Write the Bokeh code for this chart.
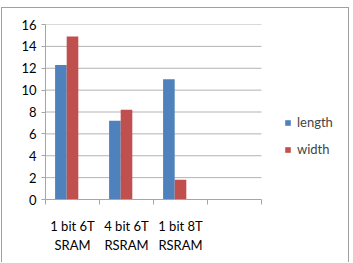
from bokeh.plotting import figure
from bokeh.models import (ColumnDataSource, FixedTicker, Legend, LegendItem,
                          Range1d)
from bokeh.transform import dodge
from bokeh.embed import file_html
from bokeh.resources import INLINE

categories = ["1 bit 6T\nSRAM", "4 bit 6T\nRSRAM", "1 bit 8T\nRSRAM"]
length = [12.3, 7.2, 11.0]
width = [14.9, 8.2, 1.8]
y_ticks = [0, 2, 4, 6, 8, 10, 12, 14, 16]
n_slots = 4

FONT = "Lato"
BLUE = "#4F81BD"
RED = "#C0504D"
GRID = "#b3b3b3"
AXIS = "#a6a6a6"

xpos = [i + 0.5 for i in range(len(categories))]
src = ColumnDataSource(dict(x=xpos, length=length, width=width))
grid_src = ColumnDataSource(dict(y=y_ticks[1:], x0=[0] * (len(y_ticks) - 1),
                                 x1=[n_slots] * (len(y_ticks) - 1)))

p = figure(width=348, height=255, output_backend="svg", toolbar_location=None,
           x_range=Range1d(0, n_slots * 305 / 216), y_range=Range1d(y_ticks[0], y_ticks[-1]),
           min_border_left=43, min_border_right=0, min_border_top=16,
           min_border_bottom=64)
p.outline_line_color = None
p.background_fill_color = "white"
p.border_fill_color = "white"
p.styles = {"border-left": "1px solid #a0a0a0", "border-right": "1px solid #a0a0a0",
            "border-top": "1px solid #a0a0a0", "margin-left": "1px",
            "margin-top": "7px"}

p.segment(x0="x0", x1="x1", y0="y", y1="y", source=grid_src,
          line_color=GRID, line_width=1)

bw = 0.215
r1 = p.vbar(x=dodge("x", -bw, range=p.x_range), top="length", width=bw,
            source=src, fill_color=BLUE, line_color=None)
r2 = p.vbar(x=dodge("x", 0.0, range=p.x_range), top="width", width=bw,
            source=src, fill_color=RED, line_color=None)

# y axis
p.yaxis.ticker = FixedTicker(ticks=y_ticks)
p.yaxis.axis_line_color = AXIS
p.yaxis.major_tick_line_color = AXIS
p.yaxis.major_tick_out = 4
p.yaxis.major_tick_in = 0
p.yaxis.minor_tick_line_color = None
p.yaxis.major_label_text_font = FONT
p.yaxis.major_label_text_font_size = "13px"
p.yaxis.major_label_text_color = "#000000"
p.yaxis.major_label_standoff = 5

# x axis
p.xaxis.ticker = FixedTicker(ticks=xpos, minor_ticks=list(range(n_slots + 1)))
p.xaxis.bounds = (0, n_slots)
p.xaxis.major_label_overrides = {x: c for x, c in zip(xpos, categories)}
p.xaxis.axis_line_color = AXIS
p.xaxis.major_tick_line_color = None
p.xaxis.minor_tick_line_color = AXIS
p.xaxis.minor_tick_out = 5
p.xaxis.minor_tick_in = 0
p.xaxis.major_label_text_font = FONT
p.xaxis.major_label_text_font_size = "13px"
p.xaxis.major_label_text_color = "#000000"
p.xaxis.major_label_standoff = 12

p.xgrid.grid_line_color = None
p.ygrid.grid_line_color = None

legend = Legend(items=[LegendItem(label="length", renderers=[r1]),
                       LegendItem(label="width", renderers=[r2])],
                location=(239, 42), orientation="vertical",
                padding=0, margin=0, spacing=11,
                glyph_width=7, glyph_height=7, label_height=16,
                label_standoff=6, border_line_color=None,
                background_fill_alpha=0,
                label_text_font=FONT, label_text_font_size="13px")
p.add_layout(legend, "center")

open("out.html", "w").write(file_html(p, INLINE))
